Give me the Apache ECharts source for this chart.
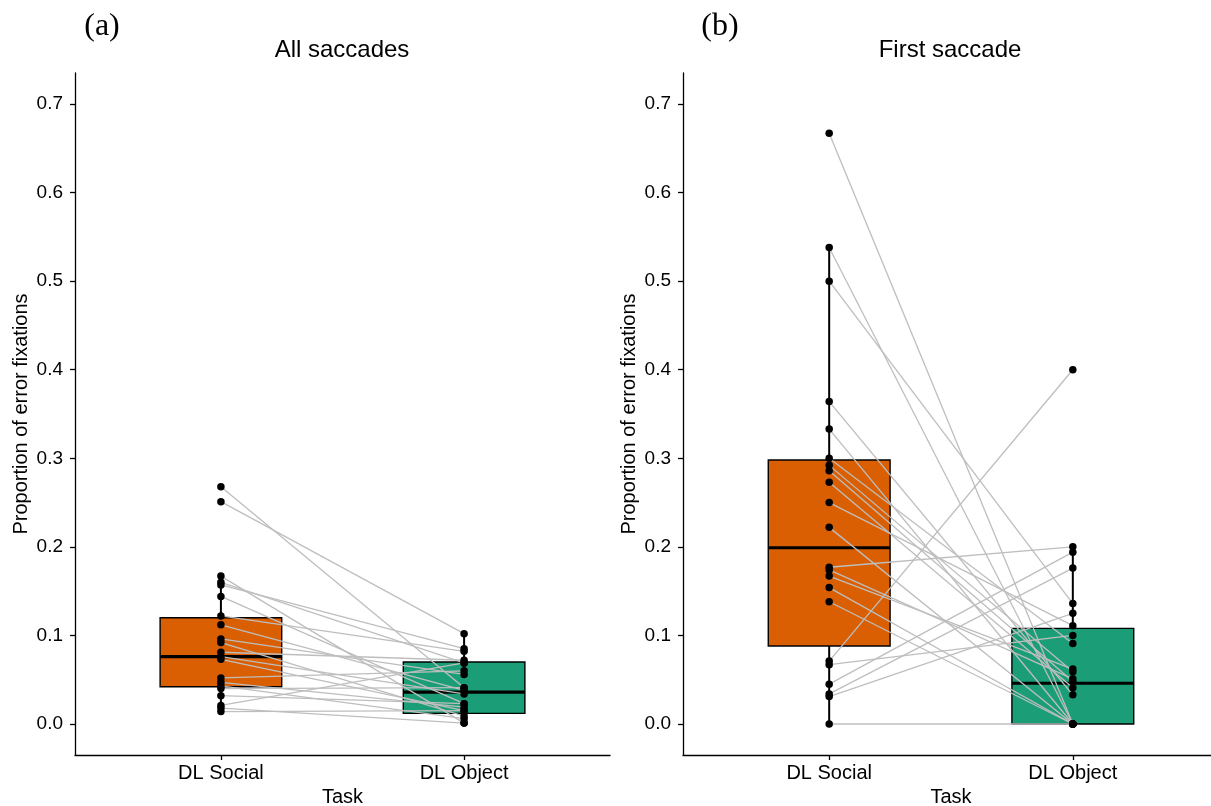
<!DOCTYPE html>
<html>
<head>
<meta charset="utf-8">
<script src="https://cdn.jsdelivr.net/npm/echarts@6/dist/echarts.min.js"></script>
<style>
html,body{margin:0;padding:0;background:#fff;}
#chart{width:1211px;height:806px;}
</style>
</head>
<body>
<div id="chart"></div>
<script>
// ---- data ----
const categories = ['DL Social', 'DL Object'];
const yTicks = [0, 0.1, 0.2, 0.3, 0.4, 0.5, 0.6, 0.7];
const panelTitles = ['All saccades', 'First saccade'];
const panelTags = ['(a)', '(b)'];

// Panel (a): All saccades, paired per participant
const aSocial = [0.268,0.251,0.167,0.160,0.157,0.144,0.122,0.112,0.096,0.092,0.081,0.076,0.073,0.052,0.047,0.043,0.040,0.032,0.021,0.018,0.014];
const aObject = [0.041,0.102,0.001,0.069,0.085,0.023,0.082,0.038,0.056,0.009,0.072,0.034,0.015,0.060,0.019,0.006,0.041,0.023,0.069,0.001,0.015];
// box stats: [lower whisker, Q1, median, Q3, upper whisker]
const aBoxSocial = [0.014,0.042,0.076,0.120,0.167];
const aBoxObject = [0.001,0.012,0.036,0.070,0.102];

// Panel (b): First saccade
const bSocial = [0.667,0.538,0.500,0.364,0.333,0.300,0.292,0.286,0.273,0.250,0.222,0.177,0.174,0.167,0.154,0.138,0.071,0.067,0.045,0.034,0.031,0.000];
const bObject = [0.000,0.000,0.136,0.033,0.000,0.091,0.059,0.048,0.041,0.111,0.000,0.200,0.051,0.062,0.000,0.000,0.400,0.100,0.194,0.176,0.125,0.000];
const bBoxSocial = [0.000,0.088,0.199,0.298,0.538];
const bBoxObject = [0.000,0.000,0.046,0.108,0.200];

const boxColors = ['#D95F02', '#1B9E77'];

// ---- chart ----
const chart = echarts.init(document.getElementById('chart'), null, {renderer: 'canvas'});
const FONT = '"Liberation Sans", Arial, sans-serif';

const grids = [
  {left: 75, top: 73, width: 535, height: 682, containLabel: false, outerBoundsMode: 'none'},
  {left: 683, top: 73, width: 536, height: 682, containLabel: false, outerBoundsMode: 'none'}
];

function xAxisFor(i) {
  return {
    type: 'value', gridIndex: i, min: 0.4, max: 2.6,
    splitLine: {show: false},
    axisLine: {show: true, onZero: false, lineStyle: {color: '#000', width: 1.3}},
    axisTick: {show: true, length: 5, customValues: [1, 2], lineStyle: {color: '#000', width: 1.3}},
    axisLabel: {show: true, customValues: [1, 2], margin: 8, fontSize: 20, color: '#000', fontFamily: FONT,
      formatter: v => categories[Math.round(v) - 1] || ''},
    name: 'Task', nameLocation: 'middle', nameGap: 31,
    nameTextStyle: {fontSize: 20, color: '#000', fontFamily: FONT}
  };
}
function yAxisFor(i) {
  return {
    type: 'value', gridIndex: i, min: -0.035, max: 0.735,
    splitLine: {show: false},
    axisLine: {show: true, onZero: false, lineStyle: {color: '#000', width: 1.3}},
    axisTick: {show: true, length: 5, customValues: yTicks, lineStyle: {color: '#000', width: 1.3}},
    axisLabel: {show: true, customValues: yTicks, margin: 12, fontSize: 19, color: '#000', fontFamily: FONT,
      formatter: v => Number(v).toFixed(1)},
    name: 'Proportion of error fixations', nameLocation: 'middle', nameGap: 44, nameRotate: 90,
    nameTextStyle: {fontSize: 20, color: '#000', fontFamily: FONT}
  };
}

function boxSeries(i, socialStats, objectStats) {
  return {
    type: 'custom', xAxisIndex: i, yAxisIndex: i, z: 1, silent: true, clip: false,
    encode: {x: 0, y: [1, 2, 3, 4, 5]},
    data: [[1].concat(socialStats), [2].concat(objectStats)],
    renderItem: function (params, api) {
      const x = api.value(0);
      const halfW = api.size([0.5, 0])[0] / 2;
      const pLow = api.coord([x, api.value(1)]);
      const pQ1 = api.coord([x, api.value(2)]);
      const pMed = api.coord([x, api.value(3)]);
      const pQ3 = api.coord([x, api.value(4)]);
      const pHigh = api.coord([x, api.value(5)]);
      const cx = pMed[0];
      return {
        type: 'group',
        children: [
          {type: 'line', shape: {x1: cx, y1: pLow[1], x2: cx, y2: pQ1[1]}, style: {stroke: '#000', lineWidth: 2}},
          {type: 'line', shape: {x1: cx, y1: pQ3[1], x2: cx, y2: pHigh[1]}, style: {stroke: '#000', lineWidth: 2}},
          {type: 'rect', shape: {x: cx - halfW, y: pQ3[1], width: 2 * halfW, height: pQ1[1] - pQ3[1]},
            style: {fill: boxColors[params.dataIndex], stroke: '#000', lineWidth: 1.4}},
          {type: 'line', shape: {x1: cx - halfW, y1: pMed[1], x2: cx + halfW, y2: pMed[1]}, style: {stroke: '#000', lineWidth: 3.2}}
        ]
      };
    }
  };
}

function pairSeries(i, social, object) {
  return {
    type: 'custom', xAxisIndex: i, yAxisIndex: i, z: 2, silent: true, clip: false,
    encode: {x: [0, 2], y: [1, 3]},
    data: social.map((s, k) => [1, s, 2, object[k]]),
    renderItem: function (params, api) {
      const p1 = api.coord([api.value(0), api.value(1)]);
      const p2 = api.coord([api.value(2), api.value(3)]);
      return {type: 'line', shape: {x1: p1[0], y1: p1[1], x2: p2[0], y2: p2[1]},
        style: {stroke: '#BEBEBE', lineWidth: 1.3}};
    }
  };
}

function pointSeries(i, social, object) {
  return {
    type: 'scatter', xAxisIndex: i, yAxisIndex: i, z: 3, silent: true,
    symbol: 'circle', symbolSize: 7.5,
    itemStyle: {color: '#000', opacity: 1},
    data: social.map(v => [1, v]).concat(object.map(v => [2, v]))
  };
}

const option = {
  animation: false,
  backgroundColor: '#fff',
  grid: grids,
  xAxis: [xAxisFor(0), xAxisFor(1)],
  yAxis: [yAxisFor(0), yAxisFor(1)],
  graphic: [
    {type: 'text', x: 102, y: 27, style: {text: panelTags[0], font: '32px "Liberation Serif", "Times New Roman", serif', fill: '#000', textAlign: 'center', textVerticalAlign: 'middle'}},
    {type: 'text', x: 720, y: 27, style: {text: panelTags[1], font: '32px "Liberation Serif", "Times New Roman", serif', fill: '#000', textAlign: 'center', textVerticalAlign: 'middle'}},
    {type: 'text', x: 342, y: 50, style: {text: panelTitles[0], font: '24px "Liberation Sans", Arial, sans-serif', fill: '#000', textAlign: 'center', textVerticalAlign: 'middle'}},
    {type: 'text', x: 950, y: 50, style: {text: panelTitles[1], font: '24px "Liberation Sans", Arial, sans-serif', fill: '#000', textAlign: 'center', textVerticalAlign: 'middle'}}
  ],
  series: [
    boxSeries(0, aBoxSocial, aBoxObject),
    pairSeries(0, aSocial, aObject),
    pointSeries(0, aSocial, aObject),
    boxSeries(1, bBoxSocial, bBoxObject),
    pairSeries(1, bSocial, bObject),
    pointSeries(1, bSocial, bObject)
  ]
};
chart.setOption(option);
</script>
</body>
</html>
